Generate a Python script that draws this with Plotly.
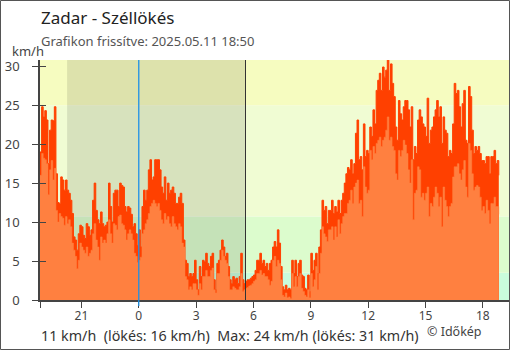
import plotly.graph_objects as go
import pandas as pd

# ---- data (5-minute samples, 2025-05-10 18:50 -> 2025-05-11 18:50) ----
start_time = "2025-05-10 18:50"
step_minutes = 5

gust_evening = [
    19, 24.8,
    23.5, 24.3, 23.1, 17.5, 21.8, 23.1, 23, 24.8, 16.2, 12.5, 12.4, 15.8,
    15.4, 14.1, 15.4, 14.1, 13.7, 12.8, 11.1, 8.1, 7.7, 6.4, 8.5, 9.6,
    9.4, 8.3, 7.9, 9.8, 9.4, 8.3, 9, 12.8, 15, 11.5, 10.3, 9.8,
    11.3, 9.8, 9.4, 9.6, 10, 15, 12, 10, 13.7, 14.1, 14.1, 12,
    15, 14.7, 14.5, 12, 11.3, 12, 11.8, 11, 9.4, 9.8, 8.5, 7,
]
avg_evening = [
    16, 18.8,
    18.2, 18, 17.5, 13.5, 16.7, 17.9, 15.4, 16.9, 11.5, 10, 11.1, 10.7,
    10.5, 9.6, 10.7, 9.8, 10.3, 9.4, 7.3, 6.4, 5.6, 4, 5.1, 7.3,
    6.8, 6.4, 6, 6.8, 5.6, 6, 6.4, 8.5, 9.8, 7.7, 6.8, 5.1,
    8.1, 7.3, 7.7, 7.3, 8.5, 10.3, 8.5, 7.3, 9.8, 9.6, 9, 10.7,
    10.9, 9.8, 9.6, 9, 7.7, 8.5, 9, 8.5, 7.7, 6, 5.6, 4.8,
]
gust_day = [
    9, 6.8, 12, 14.1, 12.8, 14.1, 16.7, 18, 15.4, 15.8, 18, 18,
    18, 16.7, 14.5, 13.7, 15.8, 12.8, 15, 13.7, 14.1, 14.5, 13.7, 12.4,
    12.4, 13.2, 13.7, 12.4, 7.7, 5.1, 4.7, 3, 3.4, 3, 3.4, 5.1,
    2.6, 1.3, 4.3, 3, 5.1, 4.9, 6, 4.7, 4.3, 5.6, 6, 2.6,
    1.3, 4.7, 5.1, 6.4, 7.7, 6.8, 5.6, 6, 4.3, 2.6, 2.1, 3,
    2.6, 2.8, 2.1, 3, 6, 2.6, 2.1, 2.4, 2.6, 2.6, 2.8, 3,
    3.2, 3.8, 5.1, 5.1, 6, 4.7, 5.1, 4.3, 4.7, 3.8, 4.7, 5.1,
    6.8, 7.5, 6.8, 9, 7.3, 4.3, 1.7, 1.3, 1.9, 1.3, 1.5, 1.3,
    5.1, 3.4, 5.1, 3, 4.7, 5.1, 3.2, 3, 1.5, 1.3, 3.2, 1.1,
    6, 3.8, 5.1, 6, 3.4, 6.8, 9, 12.8, 11.5, 12, 9.8, 11.5,
    11.5, 12.8, 11.1, 12, 11.3, 12.8, 11.1, 12.8, 13.7, 15, 16.2, 17,
    16.7, 18, 16.2, 17.5, 21.4, 23.1, 18, 18.4, 16.7, 22.6, 18.4, 19.2,
    18.8, 22.2, 21, 24.4, 22.6, 26.9, 28.2, 29.1, 26.9, 29.9, 28.6, 29.5,
    31, 26.9, 30.3, 27.8, 26.1, 22.2, 20.5, 25.6, 23.9, 23.1, 24.8, 25.6,
    25.6, 24.4, 22.2, 24.8, 18, 19.7, 18.8, 23.1, 24.4, 23.5, 22.6, 22.2,
    21, 25.9, 20.1, 21.8, 22.2, 23.5, 24.4, 25.6, 23.5, 24.8, 20.1, 23.5,
    21.8, 21.4, 18.4, 19.2, 18.8, 22.6, 27.8, 26.5, 26.9, 24.8, 22.2, 25.2,
    26.9, 20.5, 20.1, 27.4, 26.1, 21.8, 18.8, 19.7, 19.2, 19.7, 18.8, 17.9,
    17.9, 17.5, 18.4, 18.4, 16.2, 18.4, 18.4, 19.2, 17.5, 17.9, 16,
]
avg_day = [
    5.1, 5.5, 8.5, 9, 9.8, 10.3, 11.1, 12, 12.4, 12.8, 12.4, 12,
    12.4, 11.5, 10.3, 9.8, 11.1, 10.3, 10.7, 9.8, 9.4, 10.7, 9.8, 9.4,
    9, 9.8, 9.4, 7.3, 6.8, 3, 2.6, 1.3, 1.7, 1.3, 2.1, 2.1,
    1.3, 0.6, 2.1, 1.3, 3, 3, 3.8, 3, 3, 3.8, 4.1, 1.3,
    0.9, 3.4, 3.4, 5.1, 6.4, 5.6, 5.1, 4.7, 3, 1.3, 1.3, 1.7,
    1.5, 1.3, 1.3, 1.7, 3.4, 1.1, 1.3, 1.5, 1.6, 1.8, 1.9, 2.1,
    2.4, 2.6, 3.4, 3.4, 3.8, 3.2, 3.4, 3, 3, 2.6, 1.9, 2.4,
    5.1, 5.6, 4.3, 5.1, 4.7, 2.6, 0.6, 0.4, 0.9, 0.3, 0.4, 0.2,
    3.4, 1.7, 3, 1.7, 3, 3.4, 1.5, 1.1, 0.6, 0.4, 1.3, 0.3,
    3.4, 1.7, 2.6, 4.3, 1.3, 3.4, 6, 9.4, 8.5, 8.1, 7.5, 9,
    9, 9.4, 7.7, 9.4, 8.1, 10.3, 8.5, 9.8, 10.7, 11.1, 11.1, 12.4,
    12.8, 14.1, 12.4, 14.5, 15, 15.4, 12.4, 12.8, 10.7, 17.1, 14.5, 13.7,
    14.1, 19.2, 18, 19.7, 18.8, 20.1, 20.5, 20.9, 19.7, 20.5, 20.9, 21.8,
    23.5, 20.5, 20.9, 19.7, 19.2, 16.2, 15.4, 19.2, 18.4, 19.2, 20.5, 19.9,
    18.8, 16.7, 15, 18, 10.3, 13.7, 14.1, 17.1, 16.7, 13.2, 13.7, 12.8,
    13.7, 14.5, 10.7, 12.4, 12, 13.2, 14.5, 13.7, 12, 13.2, 9.4, 14.5,
    12.8, 12, 10.7, 12, 12.4, 15.8, 17.1, 17.1, 17.5, 16.2, 15.4, 16.7,
    17.9, 14.5, 13.2, 20.1, 19.2, 16.2, 14.1, 14.5, 14.7, 14.5, 13.2, 11.5,
    12, 11.1, 12.8, 11.5, 9.8, 12.4, 12.4, 13.2, 12, 12, 11,
]

tick_vals = ["2025-05-10 18:50", "2025-05-10 21:00", "2025-05-11 00:00",
             "2025-05-11 03:00", "2025-05-11 06:00", "2025-05-11 09:00",
             "2025-05-11 12:00", "2025-05-11 15:00", "2025-05-11 18:00"]
tick_text = ["", "21", "0", "3", "6", "9", "12", "15", "18"]
y_ticks = [0, 5, 10, 15, 20, 25, 30]

band_edges = [0, 3.5, 10.7, 25, 40]
band_colors = ["#c9fcdc", "#dcfccd", "#f0fcd3", "#f6fcc0"]

night_start = "2025-05-10 20:15"
night_end = "2025-05-11 05:35"
midnight = "2025-05-11 00:00"
x_range = ["2025-05-10 18:50", "2025-05-11 19:22"]
y_max = 30.8

title = "Zadar - Széllökés"
subtitle = "Grafikon frissítve: 2025.05.11 18:50"
footer = "11 km/h\u00a0\u00a0(lökés: 16 km/h)\u00a0\u00a0Max: 24 km/h (lökés: 31 km/h)"
credit = "© Időkép"

# ---- build ----
gust = gust_evening + gust_day
avg = avg_evening + avg_day
times = pd.date_range(start=start_time, periods=len(gust), freq=f"{step_minutes}min")

W, H = 510, 350
ml, mr, mt, mb = 40, 1, 60, 50
pw, ph = W - ml - mr, H - mt - mb

fig = go.Figure()
fig.add_trace(go.Scatter(x=times, y=gust, mode="lines", line=dict(shape="hv", width=1, color="#ff4000"),
                         fill="tozeroy", fillcolor="#ff4000", hoverinfo="skip", showlegend=False))
fig.add_trace(go.Scatter(x=times, y=avg, mode="lines", line=dict(shape="hv", width=0.5, color="#ff8040"),
                         fill="tozeroy", fillcolor="#ff8040", hoverinfo="skip", showlegend=False))
fig.add_trace(go.Scatter(x=[times[0]], y=[0], yaxis="y2", mode="markers", marker=dict(opacity=0),
                         hoverinfo="skip", showlegend=False))

shapes = []
for i, c in enumerate(band_colors):
    shapes.append(dict(type="rect", xref="paper", x0=0, x1=1, yref="y", y0=band_edges[i],
                       y1=band_edges[i + 1], fillcolor=c, line=dict(width=0), layer="below"))
shapes.append(dict(type="rect", xref="x", x0=night_start, x1=night_end, yref="paper", y0=0, y1=1,
                   fillcolor="rgba(0,0,0,0.1)", line=dict(width=0), layer="below"))
shapes.append(dict(type="line", xref="x", x0=midnight, x1=midnight, yref="paper", y0=-0.025, y1=1,
                   line=dict(color="#1e90e6", width=1.3), layer="above"))
shapes.append(dict(type="line", xref="x", x0=night_end, x1=night_end, yref="paper", y0=0, y1=1,
                   line=dict(color="#333333", width=1), layer="above"))
shapes.append(dict(type="rect", xref="paper", yref="paper",
                   x0=-(ml - 0.5) / pw, x1=1 + (mr - 0.5) / pw,
                   y0=-(mb - 0.5) / ph, y1=1 + (mt - 0.5) / ph,
                   line=dict(color="#555555", width=1), fillcolor="rgba(0,0,0,0)", layer="above"))

def px_y(y):
    return (mt + ph - y) / ph

def px_x(x):
    return (x - ml) / pw

font = "Noto Sans, Open Sans, DejaVu Sans, sans-serif"
annotations = [
    dict(text=title, x=px_x(39), y=px_y(18), xref="paper", yref="paper", xanchor="left", yanchor="middle",
         showarrow=False, font=dict(size=17, color="#222222", family=font)),
    dict(text=subtitle, x=px_x(39), y=px_y(41), xref="paper", yref="paper", xanchor="left", yanchor="middle",
         showarrow=False, font=dict(size=13, color="#555555", family=font)),
    dict(text="km/h", x=px_x(28), y=px_y(51), xref="paper", yref="paper", xanchor="center", yanchor="middle",
         showarrow=False, font=dict(size=13, color="#444444", family=font)),
    dict(text=footer, x=px_x(39), y=px_y(335), xref="paper", yref="paper", xanchor="left", yanchor="middle",
         showarrow=False, font=dict(size=14.3, color="#333333", family=font)),
    dict(text=credit, x=px_x(425), y=px_y(331), xref="paper", yref="paper", xanchor="left", yanchor="middle",
         showarrow=False, font=dict(size=12.5, color="#444444", family=font)),
]

fig.update_layout(
    width=W, height=H, autosize=False,
    margin=dict(l=ml, r=mr, t=mt, b=mb, pad=0),
    paper_bgcolor="white", plot_bgcolor="white",
    shapes=shapes, annotations=annotations,
    font=dict(family=font, color="#444444"),
    xaxis=dict(type="date", range=x_range, tickvals=tick_vals, ticktext=tick_text,
               ticks="outside", ticklen=6, tickcolor="#444444", tickwidth=1,
               showline=True, linecolor="#444444", linewidth=1.5, showgrid=False, zeroline=False,
               tickfont=dict(size=12, color="#444444"), ticklabelstandoff=-2),
    yaxis=dict(range=[0, y_max], tickvals=y_ticks, ticks="outside", ticklen=6, tickcolor="#444444",
               showline=True, linecolor="#444444", linewidth=1.5, showgrid=False, zeroline=False,
               tickfont=dict(size=13, color="#444444"), ticklabelstandoff=10),
    yaxis2=dict(range=[0, y_max], tickvals=y_ticks, ticks="inside", ticklen=6, tickcolor="#444444",
                overlaying="y", side="left", showticklabels=False, showline=False, showgrid=False,
                zeroline=False),
)

fig.write_html("out.html")
